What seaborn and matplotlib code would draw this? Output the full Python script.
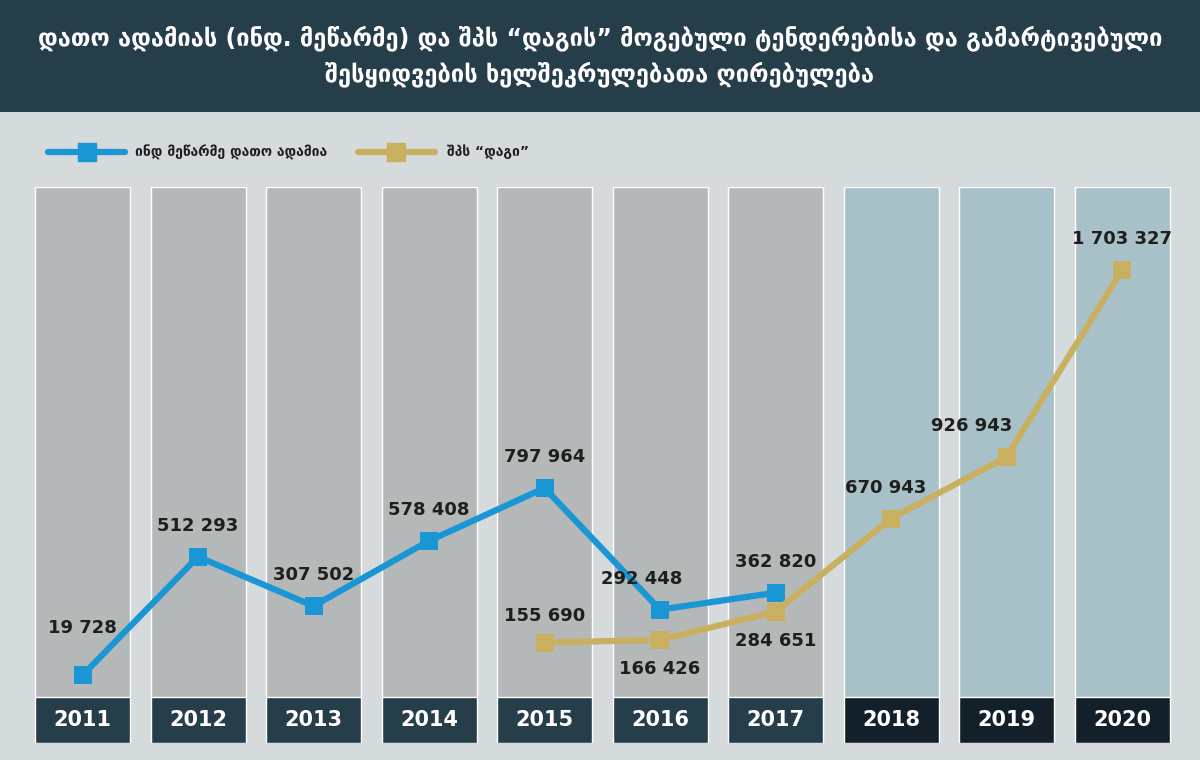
import matplotlib.pyplot as plt
import matplotlib.lines as mlines
import seaborn as sns
import pandas as pd
import numpy as np

years = ['2011', '2012', '2013', '2014', '2015', '2016', '2017', '2018', '2019', '2020']
adamia = [19728, 512293, 307502, 578408, 797964, 292448, 362820, None, None, None]
dagi = [None, None, None, None, 155690, 166426, 284651, 670943, 926943, 1703327]
adamia_name = 'ინდ მეწარმე დათო ადამია'
dagi_name = 'შპს “დაგი”'
title = 'დათო ადამიას (ინდ. მეწარმე) და შპს “დაგის” მოგებული ტენდერებისა და გამარტივებული\nშესყიდვების ხელშეკრულებათა ღირებულება'

blue = '#1a96d4'
gold = '#c9b060'
W, H = 1200, 760
sns.set_theme(style='white')
plt.rcParams['font.family'] = ['DejaVu Sans']
fig = plt.figure(figsize=(12, 7.6), dpi=100)
fig.patch.set_facecolor('#d5dadd')

# title band
band = fig.add_axes([0, 1 - 112 / H, 1, 112 / H])
band.set_facecolor('#263d4a')
band.set_xticks([]); band.set_yticks([])
for s in band.spines.values():
    s.set_visible(False)
band.text(0.5, 0.5, title, ha='center', va='center', color='white',
          fontsize=17, fontweight='bold', linespacing=1.5)

x = np.arange(len(years))
x0 = -82.5 / 115.5
x1 = (W - 82.5) / 115.5
top_v = (680 - 187) / 0.0002406
bot_v = (680 - 697) / 0.0002406

ax = fig.add_axes([0, 1 - 697 / H, 1, (697 - 187) / H])
ax.set_facecolor('none')
col_colors = ['#b5b8b9'] * 7 + ['#a8c0c8'] * 3
ax.bar(x, top_v - bot_v, bottom=bot_v, width=95 / 115.5, color=col_colors, zorder=1)

df = pd.DataFrame({'x': x, 'a': adamia, 'd': dagi}, dtype=float)
for col, c in [('a', blue), ('d', gold)]:
    sns.lineplot(data=df.dropna(subset=[col]), x='x', y=col, ax=ax, color=c, lw=4.5,
                 marker='s', markersize=13, markeredgewidth=0, zorder=3)
ax.set_xlim(x0, x1)
ax.set_ylim(bot_v, top_v)
ax.axis('off')

def fmt(v):
    return f'{int(v):,}'.replace(',', ' ')

lab = dict(fontsize=13, fontweight='bold', color='#1e1e1e', ha='center', zorder=4)
a_off = [(0, 38), (0, 22), (0, 22), (0, 22), (0, 22), (-18, 22), (0, 22)]
for i, v in enumerate(adamia):
    if v is not None:
        ax.annotate(fmt(v), (i, v), xytext=a_off[i], textcoords='offset pixels', va='bottom', **lab)
d_off = {4: (0, 18), 5: (0, -20), 6: (0, -20), 7: (-5, 22), 8: (-35, 22), 9: (0, 22)}
for i, v in enumerate(dagi):
    if v is not None:
        dx, dy = d_off[i]
        ax.annotate(fmt(v), (i, v), xytext=(dx, dy), textcoords='offset pixels',
                    va='bottom' if dy > 0 else 'top', **lab)

# year boxes
yx = fig.add_axes([0, 1 - 743 / H, 1, 46 / H])
yx.set_facecolor('none')
yx.bar(x, 1, width=95 / 115.5, color=['#263d4a'] * 7 + ['#13202a'] * 3)
for i, y in enumerate(years):
    yx.text(i, 0.5, y, ha='center', va='center', color='white', fontsize=15, fontweight='bold')
yx.set_xlim(x0, x1); yx.set_ylim(0, 1)
yx.axis('off')

# legend
for xa, xb, xm, xt, c, name in [(48, 125, 87, 135, blue, adamia_name), (358, 435, 396, 447, gold, dagi_name)]:
    yy = 1 - 152 / H
    fig.add_artist(mlines.Line2D([xa / W, xb / W], [yy, yy], color=c, lw=4.5))
    fig.add_artist(mlines.Line2D([xm / W], [yy], color=c, marker='s', markersize=13, lw=0))
    fig.text(xt / W, yy, name, va='center', ha='left', fontsize=10, fontweight='bold', color='#1e1e1e')

fig.savefig('out.png', dpi=100, facecolor=fig.get_facecolor())
